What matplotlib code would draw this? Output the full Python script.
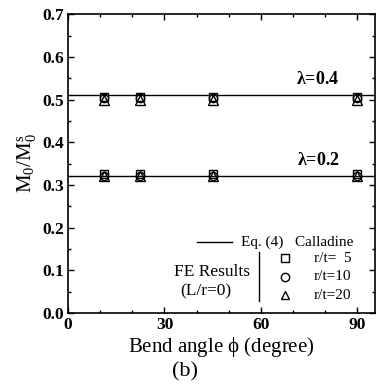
import matplotlib
matplotlib.use("Agg")
import matplotlib.pyplot as plt
from matplotlib.ticker import MultipleLocator

plt.rcParams['font.family'] = ['Liberation Serif', 'DejaVu Serif']
plt.rcParams['mathtext.fontset'] = 'custom'
plt.rcParams['mathtext.rm'] = 'Liberation Serif'
plt.rcParams['mathtext.it'] = 'Liberation Serif:italic'
plt.rcParams['mathtext.bf'] = 'Liberation Serif:bold'

# Bend angles (degree)
angles = [11.25, 22.5, 45, 90]

# Calladine, Eq. (4)
lambdas = [0.4, 0.2]
calladine = [0.51, 0.32]

# FE results (L/r=0)
fe_rt5 = {0.4: [0.505, 0.505, 0.505, 0.505], 0.2: [0.325, 0.325, 0.325, 0.325]}
fe_rt10 = {0.4: [0.503, 0.503, 0.503, 0.503], 0.2: [0.322, 0.322, 0.322, 0.322]}
fe_rt20 = {0.4: [0.500, 0.500, 0.500, 0.500], 0.2: [0.320, 0.320, 0.320, 0.320]}

fig = plt.figure(figsize=(3.78, 3.84), dpi=100)
ax = fig.add_axes([0.18, 0.185, 0.812, 0.778])

for lam, val in zip(lambdas, calladine):
    ax.axhline(val, color='black', lw=1.0)
    ax.plot(angles, fe_rt5[lam], ls='none', marker='s', ms=6, mfc='none', mec='black', mew=1.0)
    ax.plot(angles, fe_rt10[lam], ls='none', marker='o', ms=6, mfc='none', mec='black', mew=1.0)
    ax.plot(angles, fe_rt20[lam], ls='none', marker='^', ms=6.5, mfc='none', mec='black', mew=1.0)
    ax.text(84.5, val + 0.018, r'$\mathbf{\lambda}$=%.1f' % lam, ha='right', va='bottom',
            fontsize=13, fontweight='bold')

ax.set_xlim(0, 95.5)
ax.set_ylim(0, 0.7)
ax.xaxis.set_minor_locator(MultipleLocator(10))
ax.yaxis.set_minor_locator(MultipleLocator(0.05))
ax.tick_params(which='both', direction='in', top=True, right=True, width=1.0)
ax.tick_params(which='major', length=4, labelsize=12.5, pad=3)
ax.tick_params(which='minor', length=2)
ax.set_xticks([0, 30, 60, 90])
ax.set_xticklabels(['0', '30', '60', '90'], fontweight='bold')
ax.set_yticks([i / 10 for i in range(8)])
ax.set_yticklabels(['%.1f' % (i / 10) for i in range(8)], fontweight='bold')
for s in ax.spines.values():
    s.set_linewidth(1.2)

ax.set_xlabel(r'Bend angle $\mathrm{\phi}$ (degree)', fontsize=15, labelpad=1)
ax.set_ylabel(r'$\mathrm{M_0/M_0^s}$', fontsize=15, labelpad=2)
fig.text(0.49, 0.032, '(b)', ha='center', va='center', fontsize=16)

# Legend drawn in axes coordinates
t = ax.transAxes
ax.plot([0.42, 0.535], [0.238, 0.238], color='black', lw=1.0, transform=t)
ax.text(0.565, 0.238, 'Eq. (4)   Calladine', ha='left', va='center', fontsize=11, transform=t)
ax.plot([0.622, 0.622], [0.04, 0.205], color='black', lw=1.0, transform=t)
ax.text(0.47, 0.137, 'FE Results', ha='center', va='center', fontsize=12.5, transform=t)
ax.text(0.45, 0.072, '(L/r=0)', ha='center', va='center', fontsize=12.5, transform=t)
legend_rows = [('s', 'r/t=  5', 0.183), ('o', 'r/t=10', 0.122), ('^', 'r/t=20', 0.06)]
for mk, lab, yy in legend_rows:
    ax.plot([0.707], [yy], ls='none', marker=mk, ms=6, mfc='none', mec='black',
            mew=1.0, transform=t)
    ax.text(0.80, yy, lab, ha='left', va='center', fontsize=11, transform=t)

fig.savefig('out.png', dpi=100)
